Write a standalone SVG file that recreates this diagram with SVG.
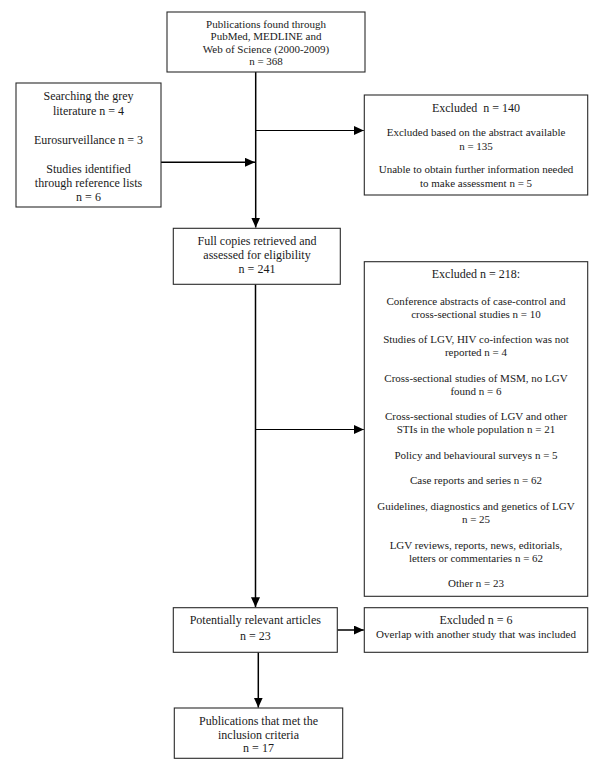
<svg xmlns="http://www.w3.org/2000/svg" width="600" height="769" viewBox="0 0 600 769">
<style>
.box{fill:#fff;stroke:#2a2a2a;stroke-width:1.1}
text{font-family:"Liberation Serif","Times New Roman",serif;fill:#1a1a1a;text-anchor:middle}
.s{font-size:11px}
.m{font-size:12px}
.c{fill:none;stroke:#000;stroke-width:1.5}
.t{fill:none;stroke:#000;stroke-width:1.1}
</style>
<defs>
<marker id="ah" markerUnits="userSpaceOnUse" markerWidth="10" markerHeight="9" refX="10" refY="4.5" orient="auto">
<path d="M0,0 L10,4.5 L0,9 z" fill="#000"/>
</marker>
</defs>
<rect width="600" height="769" fill="#fff"/>
<g id="connectors">
<path class="c" d="M255.7,72 V227.5" marker-end="url(#ah)"/>
<path class="t" d="M255.7,130.5 H363.8" marker-end="url(#ah)"/>
<path class="c" d="M161,162.3 H255" marker-end="url(#ah)"/>
<path class="c" d="M255.5,284.3 V607.2" marker-end="url(#ah)"/>
<path class="t" d="M255.5,429.5 H363.8" marker-end="url(#ah)"/>
<path class="c" d="M337.3,630 H363.8" marker-end="url(#ah)"/>
<path class="c" d="M258.3,652.3 V707.6" marker-end="url(#ah)"/>
</g>
<g id="n-publications-found">
<rect class="box" x="167" y="12" width="198" height="60"/>
<text class="s" x="266" y="28">Publications found through</text>
<text class="s" x="266" y="40.3">PubMed, MEDLINE and</text>
<text class="s" x="266" y="52.6">Web of Science (2000-2009)</text>
<text class="s" x="266" y="65">n = 368</text>
</g>
<g id="n-grey-literature">
<rect class="box" x="16" y="83" width="145" height="124"/>
<text class="m" x="88.5" y="100">Searching the grey</text>
<text class="m" x="88.5" y="114.7">literature n = 4</text>
<text class="m" x="88.5" y="144">Eurosurveillance n = 3</text>
<text class="m" x="88.5" y="173">Studies identified</text>
<text class="m" x="88.5" y="186.7">through reference lists</text>
<text class="m" x="88.5" y="200.7">n = 6</text>
</g>
<g id="n-excluded-140">
<rect class="box" x="364.3" y="95" width="223.4" height="100"/>
<text class="m" x="476" y="111.5" xml:space="preserve">Excluded  n = 140</text>
<text class="s" x="476" y="135.5">Excluded based on the abstract available</text>
<text class="s" x="476" y="149.5">n = 135</text>
<text class="s" x="476" y="172.8">Unable to obtain further information needed</text>
<text class="s" x="476" y="186.5">to make assessment n = 5</text>
</g>
<g id="n-full-copies">
<rect class="box" x="173.3" y="228.3" width="167" height="56"/>
<text class="m" x="257" y="244.7">Full copies retrieved and</text>
<text class="m" x="257" y="259">assessed for eligibility</text>
<text class="m" x="257" y="273">n = 241</text>
</g>
<g id="n-excluded-218">
<rect class="box" x="364.3" y="261.7" width="223.4" height="334.6"/>
<text class="m" x="476" y="278">Excluded n = 218:</text>
<text class="s" x="476" y="304.8">Conference abstracts of case-control and</text>
<text class="s" x="476" y="317.5">cross-sectional studies n = 10</text>
<text class="s" x="476" y="343">Studies of LGV, HIV co-infection was not</text>
<text class="s" x="476" y="356">reported n = 4</text>
<text class="s" x="476" y="381.5">Cross-sectional studies of MSM, no LGV</text>
<text class="s" x="476" y="394.5">found n = 6</text>
<text class="s" x="476" y="419.8">Cross-sectional studies of LGV and other</text>
<text class="s" x="476" y="432.8">STIs in the whole population n = 21</text>
<text class="s" x="476" y="458.8">Policy and behavioural surveys n = 5</text>
<text class="s" x="476" y="483.8">Case reports and series n = 62</text>
<text class="s" x="476" y="509.5">Guidelines, diagnostics and genetics of LGV</text>
<text class="s" x="476" y="522.8">n = 25</text>
<text class="s" x="476" y="548.8">LGV reviews, reports, news, editorials,</text>
<text class="s" x="476" y="561.5">letters or commentaries n = 62</text>
<text class="s" x="476" y="586.5">Other n = 23</text>
</g>
<g id="n-potentially-relevant">
<rect class="box" x="173.3" y="607.7" width="164" height="44.6"/>
<text class="m" x="255.3" y="624">Potentially relevant articles</text>
<text class="m" x="255.3" y="639.7">n = 23</text>
</g>
<g id="n-excluded-6">
<rect class="box" x="364.3" y="607.7" width="223.4" height="44.6"/>
<text class="m" x="476" y="624">Excluded n = 6</text>
<text class="s" x="476" y="638">Overlap with another study that was included</text>
</g>
<g id="n-publications-met">
<rect class="box" x="174.3" y="708" width="168.4" height="50.3"/>
<text class="m" x="258.5" y="724.7">Publications that met the</text>
<text class="m" x="258.5" y="739">inclusion criteria</text>
<text class="m" x="258.5" y="752.3">n = 17</text>
</g>
</svg>
